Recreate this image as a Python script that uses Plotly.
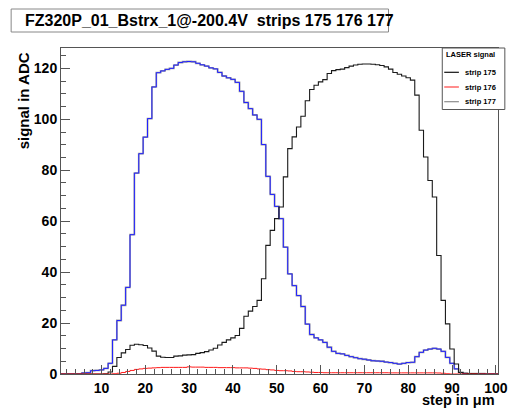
import plotly.graph_objects as go

# ---------------- data (bin centres = step positions) ----------------
steps = list(range(1, 101))

strip175 = [0, 0, 0, 0, 0, 0, 0, 0, 0, 0,
            0.1, 0.8, 3.0, 6.5, 8.3, 9.6, 11.3, 11.7, 11.5, 11.2,
            10.2, 9.0, 7.0, 6.6, 6.5, 6.5, 7.0, 7.1, 7.4, 7.5,
            7.6, 8.1, 8.4, 8.8, 9.4, 10.1, 11.4, 12.4, 13.4, 14.2,
            15.1, 17.9, 22.7, 24.7, 26.5, 28.9, 37.4, 50.5, 56.4, 61.0,
            65.6, 77.4, 88.5, 93.1, 97.0, 101.2, 107.3, 111.7, 113.4, 114.7,
            115.6, 118.0, 119.1, 119.5, 119.7, 120.3, 120.9, 121.3, 121.6, 121.7,
            121.7, 121.6, 121.4, 121.1, 120.6, 119.7, 118.4, 117.7, 117.0, 116.3,
            115.4, 109.5, 95.7, 85.2, 76.0, 69.5, 46.5, 28.9, 19.7, 9.8,
            3.9, 0.6, 0.3, 0.2, 0.2, 0.1, 0.1, 0, 0, 0]

strip176 = [0, 0, 0, 0, 0, 0, 0, 0, 0, 0,
            0, 0, 0.1, 0.3, 0.6, 1.0, 1.4, 1.8, 2.0, 2.2,
            2.3, 2.4, 2.5, 2.6, 2.6, 2.6, 2.6, 2.6, 2.6, 2.8,
            2.7, 2.7, 2.7, 2.6, 2.6, 2.6, 2.5, 2.5, 2.5, 2.5,
            2.4, 2.4, 2.4, 2.3, 2.2, 2.0, 1.9, 1.7, 1.6, 1.4,
            1.3, 1.3, 1.2, 1.0, 0.9, 0.9, 0.8, 0.7, 0.6, 0.6,
            0.5, 0.5, 0.5, 0.5, 0.5, 0.5, 0.5, 0.5, 0.5, 0.5,
            0.5, 0.5, 0.5, 0.5, 0.5, 0.45, 0.45, 0.45, 0.45, 0.45,
            0.45, 0.45, 0.45, 0.45, 0.45, 0.45, 0.4, 0.3, 0.1, 0,
            0, 0, 0, 0, 0, 0, 0, 0, 0, 0]

strip177 = [0, 0, 0, 0, 0, 0.4, 0.5, 1.3, 1.4, 1.6,
            2.2, 4.2, 13.4, 21.0, 27.0, 34.0, 54.7, 78.9, 86.5, 93.0,
            100.3, 112.7, 118.3, 119.0, 119.6, 120.0, 121.3, 122.3, 122.6, 122.7,
            122.6, 122.0, 121.4, 120.9, 120.2, 119.8, 118.4, 117.0, 116.3, 115.7,
            114.5, 111.0, 106.6, 104.2, 101.7, 100.0, 90.1, 77.6, 70.5, 65.8,
            61.0, 49.8, 39.3, 34.7, 30.8, 26.5, 19.6, 15.5, 14.2, 13.4,
            12.4, 10.5, 8.9, 8.1, 7.9, 7.3, 6.8, 6.4, 6.0, 5.8,
            5.5, 5.2, 5.1, 5.0, 4.7, 4.5, 4.2, 3.9, 4.2, 4.5,
            4.6, 6.8, 8.5, 9.4, 9.8, 10.1, 9.8, 8.9, 6.5, 4.2,
            2.0, 0.6, 0.2, 0.1, 0.1, 0.1, 0.1, 0, 0, 0]

series_names = ["strip 175", "strip 176", "strip 177"]
legend_colors = ["#111111", "#ff4040", "#8c8c8c"]
title_text = "FZ320P_01_Bstrx_1@-200.4V\u00a0 strips 175 176 177"
legend_title = "LASER signal"
x_title = "step in \u03bcm"
y_title = "signal in ADC"

# ---------------- layout geometry (pixels) ----------------
W, H = 516, 409
L, R, T, B = 61, 508, 48, 374
FONT = "Liberation Sans, Arial, sans-serif"


def px(x):
    return (x - L) / (R - L)


def py(y):
    return (B - y) / (B - T)


def hist_xy(centres, vals):
    xs = [c - 0.5 for c in centres] + [centres[-1] + 0.5]
    ys = list(vals) + [vals[-1]]
    return xs, ys


fig = go.Figure()
for vals, color, width in [(strip177, "#a0a0a0", 1.8), (strip177, "#2020ff", 1.0),
                           (strip175, "#1a1a1a", 1.1), (strip176, "#ff1a1a", 1.0)]:
    xs, ys = hist_xy(steps, vals)
    fig.add_trace(go.Scatter(x=xs, y=ys, mode="lines", line=dict(color=color, width=width, shape="hv"),
                             showlegend=False, hoverinfo="skip"))

axis_common = dict(showgrid=False, zeroline=False, showline=True, linecolor="#555555", linewidth=1,
                   mirror=True, ticks="inside", tickcolor="#555555", tickwidth=1,
                   ticklabeloverflow="allow",
                   tickfont=dict(family=FONT, size=14, color="black", weight="bold"))

fig.update_layout(
    width=W, height=H,
    margin=dict(l=L, r=W - R, t=T, b=H - B, pad=0),
    paper_bgcolor="white", plot_bgcolor="white",
    showlegend=False,
    xaxis=dict(range=[0.75, 100.5], tick0=0, dtick=10, ticklen=9, ticklabelstandoff=1,
               minor=dict(ticks="inside", dtick=2, tick0=0, ticklen=5, tickcolor="#555555", showgrid=False),
               **axis_common),
    yaxis=dict(range=[0, 128], tick0=0, dtick=20, ticklen=9,
               minor=dict(ticks="inside", dtick=5, tick0=0, ticklen=5, tickcolor="#555555", showgrid=False),
               **axis_common),
)

shapes = []
annotations = []

# title box
shapes.append(dict(type="rect", xref="paper", yref="paper", x0=px(10), x1=px(396), y0=py(9), y1=py(32),
                   line=dict(color="#888888", width=1), fillcolor="white", layer="above"))
annotations.append(dict(text=title_text, xref="paper", yref="paper", x=px(22), y=py(20.5),
                        xanchor="left", yanchor="middle", showarrow=False,
                        font=dict(family=FONT, size=16, color="black", weight="bold")))

# axis titles
annotations.append(dict(text=x_title, xref="paper", yref="paper", x=px(506), y=py(399.5),
                        xanchor="right", yanchor="middle", showarrow=False, borderpad=0,
                        font=dict(family=FONT, size=14.5, color="black", weight="bold")))
annotations.append(dict(text=y_title, xref="paper", yref="paper", x=px(23), y=py(50),
                        xanchor="center", yanchor="top", textangle=-90, showarrow=False,
                        font=dict(family=FONT, size=15, color="black", weight="bold")))

# legend box
shapes.append(dict(type="rect", xref="paper", yref="paper", x0=px(451), x1=px(515), y0=py(48), y1=py(109.5),
                   line=dict(color="#555555", width=1), fillcolor="white", layer="above"))
annotations.append(dict(text=legend_title, xref="paper", yref="paper", x=px(453), y=py(55),
                        xanchor="left", yanchor="middle", showarrow=False,
                        font=dict(family=FONT, size=7.5, color="black", weight="bold")))
for i, (name, col) in enumerate(zip(series_names, legend_colors)):
    yy = 72.3 + i * 14.7
    shapes.append(dict(type="line", xref="paper", yref="paper", x0=px(453), x1=px(468), y0=py(yy), y1=py(yy),
                       line=dict(color=col, width=1.2), layer="above"))
    annotations.append(dict(text=name, xref="paper", yref="paper", x=px(472), y=py(yy),
                            xanchor="left", yanchor="middle", showarrow=False,
                            font=dict(family=FONT, size=7.5, color="black", weight="bold")))

fig.update_layout(shapes=shapes, annotations=annotations)
fig.write_html("out.html")
